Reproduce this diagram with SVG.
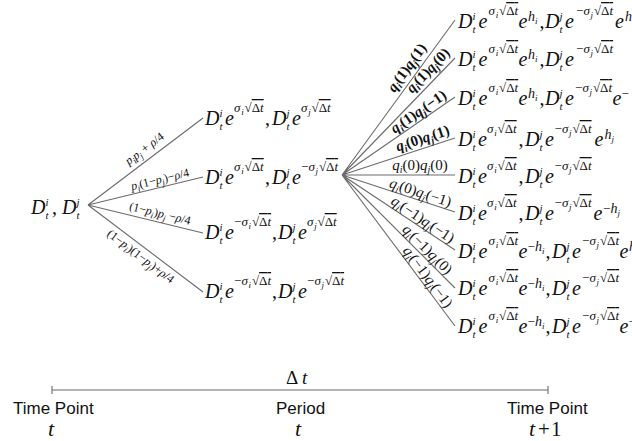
<svg xmlns="http://www.w3.org/2000/svg" width="632" height="441" viewBox="0 0 632 441">
<style>
.f{font-family:"Liberation Serif","Times New Roman",serif;fill:#111}
.m{font-size:20px;font-style:italic}
.mu{font-size:20px;font-style:normal}
.d{font-size:11px;font-style:italic}
.s{font-size:13px;font-style:italic}
.su{font-size:13px;font-style:normal}
.ss{font-size:9px;font-style:italic}
.h{font-size:14px;font-style:italic}
.ol{text-decoration:overline}
.lb{font-family:"Liberation Serif","Times New Roman",serif;font-size:12px;font-style:italic;fill:#111}
.lq{font-family:"Liberation Serif","Times New Roman",serif;font-size:15px;font-style:italic;fill:#111}
.bd{font-weight:bold}
.lu{font-style:normal}
.lsb{font-size:9px}
.lqs{font-size:10px}
.edge{stroke:#6b6b6b;stroke-width:1.1;fill:none}
.ax{font-family:"Liberation Sans",Arial,sans-serif;font-size:17px;fill:#111}
</style>
<rect width="632" height="441" fill="#fff"/>

<g id="connectors">
<path class="edge" d="M88 205L203 118M88 205L203 177M88 205L203 233M88 205L203 292"/>
<path class="edge" d="M342 175L455 20M342 175L455 58M342 175L455 97M342 175L455 138M342 175L455 175M342 175L455 212M342 175L455 250M342 175L455 288M342 175L455 326"/>
</g>

<g id="edge-labels">
<g transform="translate(88,205) rotate(-37.1)"><text class="lb" x="79" y="-7" text-anchor="middle">p<tspan class="lsb" dy="3">i</tspan><tspan dy="-3">p</tspan><tspan class="lsb" dy="3">j</tspan><tspan class="lu" dy="-3"> + </tspan>ρ<tspan class="lu">/4</tspan></text></g>
<g transform="translate(88,205) rotate(-13.7)"><text class="lb" x="76" y="-4" text-anchor="middle">p<tspan class="lsb" dy="3">i</tspan><tspan class="lu" dy="-3">(1−</tspan>p<tspan class="lsb" dy="3">j</tspan><tspan class="lu" dy="-3">)−</tspan>ρ<tspan class="lu">/4</tspan></text></g>
<g transform="translate(88,205) rotate(13.7)"><text class="lb" x="72" y="-5" text-anchor="middle"><tspan class="lu">(1−</tspan>p<tspan class="lsb" dy="3">i</tspan><tspan class="lu" dy="-3">)</tspan>p<tspan class="lsb" dy="3">j</tspan><tspan class="lu" dy="-3"> −</tspan>ρ<tspan class="lu">/4</tspan></text></g>
<g transform="translate(88,205) rotate(37.1)"><text class="lb" x="73" y="13" text-anchor="middle"><tspan class="lu">(1−</tspan>p<tspan class="lsb" dy="3">i</tspan><tspan class="lu" dy="-3">)(1−</tspan>p<tspan class="lsb" dy="3">j</tspan><tspan class="lu" dy="-3">)+</tspan>ρ<tspan class="lu">/4</tspan></text></g>

<g transform="translate(342,175) rotate(-53.9)"><text class="lq bd" x="125" y="-6" text-anchor="middle">q<tspan class="lqs" dy="3">i</tspan><tspan class="lu" dy="-3">(1)</tspan>q<tspan class="lqs" dy="3">j</tspan><tspan class="lu" dy="-3">(1)</tspan></text></g>
<g transform="translate(342,175) rotate(-46)"><text class="lq bd" x="135" y="-6" text-anchor="middle">q<tspan class="lqs" dy="3">i</tspan><tspan class="lu" dy="-3">(1)</tspan>q<tspan class="lqs" dy="3">j</tspan><tspan class="lu" dy="-3">(0)</tspan></text></g>
<g transform="translate(342,175) rotate(-34.6)"><text class="lq bd" x="99" y="-4" text-anchor="middle">q<tspan class="lqs" dy="3">i</tspan><tspan class="lu" dy="-3">(1)</tspan>q<tspan class="lqs" dy="3">j</tspan><tspan class="lu" dy="-3">(−1)</tspan></text></g>
<g transform="translate(342,175) rotate(-18.1)"><text class="lq bd" x="88" y="-5" text-anchor="middle">q<tspan class="lqs" dy="3">i</tspan><tspan class="lu" dy="-3">(0)</tspan>q<tspan class="lqs" dy="3">j</tspan><tspan class="lu" dy="-3">(1)</tspan></text></g>
<g transform="translate(342,175)"><text class="lq" x="78" y="-5" text-anchor="middle">q<tspan class="lqs" dy="3">i</tspan><tspan class="lu" dy="-3">(0)</tspan>q<tspan class="lqs" dy="3">j</tspan><tspan class="lu" dy="-3">(0)</tspan></text></g>
<g transform="translate(342,175) rotate(18.1)"><text class="lq" x="80" y="-3" text-anchor="middle">q<tspan class="lqs" dy="3">i</tspan><tspan class="lu" dy="-3">(0)</tspan>q<tspan class="lqs" dy="3">j</tspan><tspan class="lu" dy="-3">(−1)</tspan></text></g>
<g transform="translate(342,175) rotate(33.6)"><text class="lq" x="92" y="-3" text-anchor="middle">q<tspan class="lqs" dy="3">i</tspan><tspan class="lu" dy="-3">(−1)</tspan>q<tspan class="lqs" dy="3">j</tspan><tspan class="lu" dy="-3">(−1)</tspan></text></g>
<g transform="translate(342,175) rotate(45)"><text class="lq" x="113" y="-3" text-anchor="middle">q<tspan class="lqs" dy="3">i</tspan><tspan class="lu" dy="-3">(−1)</tspan>q<tspan class="lqs" dy="3">j</tspan><tspan class="lu" dy="-3">(0)</tspan></text></g>
<g transform="translate(342,175) rotate(53.2)"><text class="lq" x="133" y="-3" text-anchor="middle">q<tspan class="lqs" dy="3">i</tspan><tspan class="lu" dy="-3">(−1)</tspan>q<tspan class="lqs" dy="3">j</tspan><tspan class="lu" dy="-3">(−1)</tspan></text></g>
</g>

<g id="node-root" transform="translate(31,214)"><text class="f"><tspan class="m" x="0" y="0">D</tspan><tspan class="d" x="14.5" y="-8">i</tspan><tspan class="d" x="14.5" y="5">t</tspan><tspan class="mu" x="21" y="0">,</tspan><tspan class="m" x="31" y="0">D</tspan><tspan class="d" x="45.5" y="-8">j</tspan><tspan class="d" x="45.5" y="5">t</tspan></text></g>

<g id="node-m1" transform="translate(205,125)"><text class="f"><tspan class="m" x="0" y="0">D</tspan><tspan class="d" x="14.5" y="-8">i</tspan><tspan class="d" x="14.5" y="5">t</tspan><tspan class="m" x="20" y="0">e</tspan><tspan class="s" x="29" y="-13">σ</tspan><tspan class="ss" x="36.2" y="-10">i</tspan><tspan class="su" x="39.5" y="-13">√</tspan><tspan class="su ol" x="46.7" y="-13">Δ</tspan><tspan class="s ol">t</tspan><tspan class="mu" x="60" y="0">,</tspan><tspan class="m" x="67" y="0">D</tspan><tspan class="d" x="81.5" y="-8">j</tspan><tspan class="d" x="81.5" y="5">t</tspan><tspan class="m" x="87" y="0">e</tspan><tspan class="s" x="96" y="-13">σ</tspan><tspan class="ss" x="103.2" y="-10">j</tspan><tspan class="su" x="106.5" y="-13">√</tspan><tspan class="su ol" x="113.7" y="-13">Δ</tspan><tspan class="s ol">t</tspan></text></g>

<g id="node-m2" transform="translate(205,184)"><text class="f"><tspan class="m" x="0" y="0">D</tspan><tspan class="d" x="14.5" y="-8">i</tspan><tspan class="d" x="14.5" y="5">t</tspan><tspan class="m" x="20" y="0">e</tspan><tspan class="s" x="29" y="-13">σ</tspan><tspan class="ss" x="36.2" y="-10">i</tspan><tspan class="su" x="39.5" y="-13">√</tspan><tspan class="su ol" x="46.7" y="-13">Δ</tspan><tspan class="s ol">t</tspan><tspan class="mu" x="60" y="0">,</tspan><tspan class="m" x="67" y="0">D</tspan><tspan class="d" x="81.5" y="-8">j</tspan><tspan class="d" x="81.5" y="5">t</tspan><tspan class="m" x="87" y="0">e</tspan><tspan class="su" x="96" y="-13">−</tspan><tspan class="s" x="103.4" y="-13">σ</tspan><tspan class="ss" x="110.6" y="-10">j</tspan><tspan class="su" x="113.9" y="-13">√</tspan><tspan class="su ol" x="121.1" y="-13">Δ</tspan><tspan class="s ol">t</tspan></text></g>

<g id="node-m3" transform="translate(205,239)"><text class="f"><tspan class="m" x="0" y="0">D</tspan><tspan class="d" x="14.5" y="-8">i</tspan><tspan class="d" x="14.5" y="5">t</tspan><tspan class="m" x="20" y="0">e</tspan><tspan class="su" x="29" y="-13">−</tspan><tspan class="s" x="36.4" y="-13">σ</tspan><tspan class="ss" x="43.6" y="-10">i</tspan><tspan class="su" x="46.9" y="-13">√</tspan><tspan class="su ol" x="54.1" y="-13">Δ</tspan><tspan class="s ol">t</tspan><tspan class="mu" x="67" y="0">,</tspan><tspan class="m" x="73" y="0">D</tspan><tspan class="d" x="87.5" y="-8">j</tspan><tspan class="d" x="87.5" y="5">t</tspan><tspan class="m" x="93" y="0">e</tspan><tspan class="s" x="102" y="-13">σ</tspan><tspan class="ss" x="109.2" y="-10">j</tspan><tspan class="su" x="112.5" y="-13">√</tspan><tspan class="su ol" x="119.7" y="-13">Δ</tspan><tspan class="s ol">t</tspan></text></g>

<g id="node-m4" transform="translate(205,298)"><text class="f"><tspan class="m" x="0" y="0">D</tspan><tspan class="d" x="14.5" y="-8">i</tspan><tspan class="d" x="14.5" y="5">t</tspan><tspan class="m" x="20" y="0">e</tspan><tspan class="su" x="29" y="-13">−</tspan><tspan class="s" x="36.4" y="-13">σ</tspan><tspan class="ss" x="43.6" y="-10">i</tspan><tspan class="su" x="46.9" y="-13">√</tspan><tspan class="su ol" x="54.1" y="-13">Δ</tspan><tspan class="s ol">t</tspan><tspan class="mu" x="67" y="0">,</tspan><tspan class="m" x="73" y="0">D</tspan><tspan class="d" x="87.5" y="-8">j</tspan><tspan class="d" x="87.5" y="5">t</tspan><tspan class="m" x="93" y="0">e</tspan><tspan class="su" x="102" y="-13">−</tspan><tspan class="s" x="109.4" y="-13">σ</tspan><tspan class="ss" x="116.6" y="-10">j</tspan><tspan class="su" x="119.9" y="-13">√</tspan><tspan class="su ol" x="127.1" y="-13">Δ</tspan><tspan class="s ol">t</tspan></text></g>

<g id="node-r1" transform="translate(458,28)"><text class="f"><tspan class="m" x="0" y="0">D</tspan><tspan class="d" x="14.5" y="-8">i</tspan><tspan class="d" x="14.5" y="5">t</tspan><tspan class="m" x="20.5" y="0">e</tspan><tspan class="s" x="30.5" y="-13">σ</tspan><tspan class="ss" x="37.7" y="-10">i</tspan><tspan class="su" x="41" y="-13">√</tspan><tspan class="su ol" x="48.2" y="-13">Δ</tspan><tspan class="s ol">t</tspan><tspan class="m" x="60.5" y="0">e</tspan><tspan class="h" x="70" y="-7">h</tspan><tspan class="ss" x="77" y="-4">i</tspan><tspan class="mu" x="81.5" y="0">,</tspan><tspan class="m" x="87" y="0">D</tspan><tspan class="d" x="101.5" y="-8">j</tspan><tspan class="d" x="101.5" y="5">t</tspan><tspan class="m" x="107" y="0">e</tspan><tspan class="su" x="118" y="-13">−</tspan><tspan class="s" x="125.4" y="-13">σ</tspan><tspan class="ss" x="132.6" y="-10">j</tspan><tspan class="su" x="135.9" y="-13">√</tspan><tspan class="su ol" x="143.1" y="-13">Δ</tspan><tspan class="s ol">t</tspan><tspan class="m" x="157" y="0">e</tspan><tspan class="h" x="167" y="-7">h</tspan></text></g>

<g id="node-r2" transform="translate(458,66)"><text class="f"><tspan class="m" x="0" y="0">D</tspan><tspan class="d" x="14.5" y="-8">i</tspan><tspan class="d" x="14.5" y="5">t</tspan><tspan class="m" x="20.5" y="0">e</tspan><tspan class="s" x="30.5" y="-13">σ</tspan><tspan class="ss" x="37.7" y="-10">i</tspan><tspan class="su" x="41" y="-13">√</tspan><tspan class="su ol" x="48.2" y="-13">Δ</tspan><tspan class="s ol">t</tspan><tspan class="m" x="60.5" y="0">e</tspan><tspan class="h" x="70" y="-7">h</tspan><tspan class="ss" x="77" y="-4">i</tspan><tspan class="mu" x="81.5" y="0">,</tspan><tspan class="m" x="87" y="0">D</tspan><tspan class="d" x="101.5" y="-8">j</tspan><tspan class="d" x="101.5" y="5">t</tspan><tspan class="m" x="107" y="0">e</tspan><tspan class="su" x="118" y="-13">−</tspan><tspan class="s" x="125.4" y="-13">σ</tspan><tspan class="ss" x="132.6" y="-10">j</tspan><tspan class="su" x="135.9" y="-13">√</tspan><tspan class="su ol" x="143.1" y="-13">Δ</tspan><tspan class="s ol">t</tspan></text></g>

<g id="node-r3" transform="translate(458,105)"><text class="f"><tspan class="m" x="0" y="0">D</tspan><tspan class="d" x="14.5" y="-8">i</tspan><tspan class="d" x="14.5" y="5">t</tspan><tspan class="m" x="20.5" y="0">e</tspan><tspan class="s" x="30.5" y="-13">σ</tspan><tspan class="ss" x="37.7" y="-10">i</tspan><tspan class="su" x="41" y="-13">√</tspan><tspan class="su ol" x="48.2" y="-13">Δ</tspan><tspan class="s ol">t</tspan><tspan class="m" x="60.5" y="0">e</tspan><tspan class="h" x="70" y="-7">h</tspan><tspan class="ss" x="77" y="-4">i</tspan><tspan class="mu" x="81.5" y="0">,</tspan><tspan class="m" x="87" y="0">D</tspan><tspan class="d" x="101.5" y="-8">j</tspan><tspan class="d" x="101.5" y="5">t</tspan><tspan class="m" x="107" y="0">e</tspan><tspan class="su" x="117" y="-13">−</tspan><tspan class="s" x="124.4" y="-13">σ</tspan><tspan class="ss" x="131.6" y="-10">j</tspan><tspan class="su" x="134.9" y="-13">√</tspan><tspan class="su ol" x="142.1" y="-13">Δ</tspan><tspan class="s ol">t</tspan><tspan class="m" x="154.5" y="0">e</tspan><tspan class="su" x="163.5" y="-7">−</tspan></text></g>

<g id="node-r4" transform="translate(458,146)"><text class="f"><tspan class="m" x="0" y="0">D</tspan><tspan class="d" x="14.5" y="-8">i</tspan><tspan class="d" x="14.5" y="5">t</tspan><tspan class="m" x="20" y="0">e</tspan><tspan class="s" x="29" y="-13">σ</tspan><tspan class="ss" x="36.2" y="-10">i</tspan><tspan class="su" x="39.5" y="-13">√</tspan><tspan class="su ol" x="46.7" y="-13">Δ</tspan><tspan class="s ol">t</tspan><tspan class="mu" x="60.5" y="0">,</tspan><tspan class="m" x="67" y="0">D</tspan><tspan class="d" x="81.5" y="-8">j</tspan><tspan class="d" x="81.5" y="5">t</tspan><tspan class="m" x="87" y="0">e</tspan><tspan class="su" x="96.5" y="-13">−</tspan><tspan class="s" x="103.9" y="-13">σ</tspan><tspan class="ss" x="111.1" y="-10">j</tspan><tspan class="su" x="114.4" y="-13">√</tspan><tspan class="su ol" x="121.6" y="-13">Δ</tspan><tspan class="s ol">t</tspan><tspan class="m" x="136.5" y="0">e</tspan><tspan class="h" x="146.5" y="-7">h</tspan><tspan class="ss" x="153.5" y="-4">j</tspan></text></g>

<g id="node-r5" transform="translate(458,183)"><text class="f"><tspan class="m" x="0" y="0">D</tspan><tspan class="d" x="14.5" y="-8">i</tspan><tspan class="d" x="14.5" y="5">t</tspan><tspan class="m" x="20" y="0">e</tspan><tspan class="s" x="29" y="-13">σ</tspan><tspan class="ss" x="36.2" y="-10">i</tspan><tspan class="su" x="39.5" y="-13">√</tspan><tspan class="su ol" x="46.7" y="-13">Δ</tspan><tspan class="s ol">t</tspan><tspan class="mu" x="60.5" y="0">,</tspan><tspan class="m" x="67" y="0">D</tspan><tspan class="d" x="81.5" y="-8">j</tspan><tspan class="d" x="81.5" y="5">t</tspan><tspan class="m" x="87" y="0">e</tspan><tspan class="su" x="96.5" y="-13">−</tspan><tspan class="s" x="103.9" y="-13">σ</tspan><tspan class="ss" x="111.1" y="-10">j</tspan><tspan class="su" x="114.4" y="-13">√</tspan><tspan class="su ol" x="121.6" y="-13">Δ</tspan><tspan class="s ol">t</tspan></text></g>

<g id="node-r6" transform="translate(458,220)"><text class="f"><tspan class="m" x="0" y="0">D</tspan><tspan class="d" x="14.5" y="-8">i</tspan><tspan class="d" x="14.5" y="5">t</tspan><tspan class="m" x="20" y="0">e</tspan><tspan class="s" x="29" y="-13">σ</tspan><tspan class="ss" x="36.2" y="-10">i</tspan><tspan class="su" x="39.5" y="-13">√</tspan><tspan class="su ol" x="46.7" y="-13">Δ</tspan><tspan class="s ol">t</tspan><tspan class="mu" x="60.5" y="0">,</tspan><tspan class="m" x="67" y="0">D</tspan><tspan class="d" x="81.5" y="-8">j</tspan><tspan class="d" x="81.5" y="5">t</tspan><tspan class="m" x="87" y="0">e</tspan><tspan class="su" x="96.5" y="-13">−</tspan><tspan class="s" x="103.9" y="-13">σ</tspan><tspan class="ss" x="111.1" y="-10">j</tspan><tspan class="su" x="114.4" y="-13">√</tspan><tspan class="su ol" x="121.6" y="-13">Δ</tspan><tspan class="s ol">t</tspan><tspan class="m" x="135.5" y="0">e</tspan><tspan class="su" x="145" y="-7">−</tspan><tspan class="h" x="152.5" y="-7">h</tspan><tspan class="ss" x="159.5" y="-4">j</tspan></text></g>

<g id="node-r7" transform="translate(458,258)"><text class="f"><tspan class="m" x="0" y="0">D</tspan><tspan class="d" x="14.5" y="-8">i</tspan><tspan class="d" x="14.5" y="5">t</tspan><tspan class="m" x="20.5" y="0">e</tspan><tspan class="s" x="30.5" y="-13">σ</tspan><tspan class="ss" x="37.7" y="-10">i</tspan><tspan class="su" x="41" y="-13">√</tspan><tspan class="su ol" x="48.2" y="-13">Δ</tspan><tspan class="s ol">t</tspan><tspan class="m" x="60.5" y="0">e</tspan><tspan class="su" x="69.5" y="-7">−</tspan><tspan class="h" x="77" y="-7">h</tspan><tspan class="ss" x="84" y="-4">i</tspan><tspan class="mu" x="87.5" y="0">,</tspan><tspan class="m" x="94" y="0">D</tspan><tspan class="d" x="108.5" y="-8">j</tspan><tspan class="d" x="108.5" y="5">t</tspan><tspan class="m" x="114" y="0">e</tspan><tspan class="su" x="124" y="-13">−</tspan><tspan class="s" x="131.4" y="-13">σ</tspan><tspan class="ss" x="138.6" y="-10">j</tspan><tspan class="su" x="141.9" y="-13">√</tspan><tspan class="su ol" x="149.1" y="-13">Δ</tspan><tspan class="s ol">t</tspan><tspan class="m" x="161.5" y="0">e</tspan><tspan class="h" x="171" y="-7">h</tspan></text></g>

<g id="node-r8" transform="translate(458,295)"><text class="f"><tspan class="m" x="0" y="0">D</tspan><tspan class="d" x="14.5" y="-8">i</tspan><tspan class="d" x="14.5" y="5">t</tspan><tspan class="m" x="20.5" y="0">e</tspan><tspan class="s" x="30.5" y="-13">σ</tspan><tspan class="ss" x="37.7" y="-10">i</tspan><tspan class="su" x="41" y="-13">√</tspan><tspan class="su ol" x="48.2" y="-13">Δ</tspan><tspan class="s ol">t</tspan><tspan class="m" x="60.5" y="0">e</tspan><tspan class="su" x="69.5" y="-7">−</tspan><tspan class="h" x="77" y="-7">h</tspan><tspan class="ss" x="84" y="-4">i</tspan><tspan class="mu" x="87.5" y="0">,</tspan><tspan class="m" x="94" y="0">D</tspan><tspan class="d" x="108.5" y="-8">j</tspan><tspan class="d" x="108.5" y="5">t</tspan><tspan class="m" x="114" y="0">e</tspan><tspan class="su" x="124" y="-13">−</tspan><tspan class="s" x="131.4" y="-13">σ</tspan><tspan class="ss" x="138.6" y="-10">j</tspan><tspan class="su" x="141.9" y="-13">√</tspan><tspan class="su ol" x="149.1" y="-13">Δ</tspan><tspan class="s ol">t</tspan></text></g>

<g id="node-r9" transform="translate(458,333)"><text class="f"><tspan class="m" x="0" y="0">D</tspan><tspan class="d" x="14.5" y="-8">i</tspan><tspan class="d" x="14.5" y="5">t</tspan><tspan class="m" x="20.5" y="0">e</tspan><tspan class="s" x="30.5" y="-13">σ</tspan><tspan class="ss" x="37.7" y="-10">i</tspan><tspan class="su" x="41" y="-13">√</tspan><tspan class="su ol" x="48.2" y="-13">Δ</tspan><tspan class="s ol">t</tspan><tspan class="m" x="60.5" y="0">e</tspan><tspan class="su" x="69.5" y="-7">−</tspan><tspan class="h" x="77" y="-7">h</tspan><tspan class="ss" x="84" y="-4">i</tspan><tspan class="mu" x="87.5" y="0">,</tspan><tspan class="m" x="94" y="0">D</tspan><tspan class="d" x="108.5" y="-8">j</tspan><tspan class="d" x="108.5" y="5">t</tspan><tspan class="m" x="114" y="0">e</tspan><tspan class="su" x="124" y="-13">−</tspan><tspan class="s" x="131.4" y="-13">σ</tspan><tspan class="ss" x="138.6" y="-10">j</tspan><tspan class="su" x="141.9" y="-13">√</tspan><tspan class="su ol" x="149.1" y="-13">Δ</tspan><tspan class="s ol">t</tspan><tspan class="m" x="161.5" y="0">e</tspan><tspan class="su" x="170.5" y="-7">−</tspan></text></g>

<g id="timeline">
<path class="edge" d="M52 390H548M52 386V394M548 386V394"/>
<text class="f" y="384"><tspan class="mu" x="286" style="font-size:19px">Δ</tspan><tspan class="m" x="302" style="font-size:19px">t</tspan></text>
<text class="ax" x="13" y="414">Time Point</text>
<text class="ax" x="276" y="414">Period</text>
<text class="ax" x="507" y="414">Time Point</text>
<text class="f m" x="48" y="436" style="font-size:22px">t</text>
<text class="f m" x="295" y="436" style="font-size:22px">t</text>
<text class="f" y="436"><tspan class="m" x="529" style="font-size:22px">t</tspan><tspan class="mu" x="538" style="font-size:21px">+</tspan><tspan class="mu" x="551" style="font-size:21px">1</tspan></text>
</g>
</svg>
